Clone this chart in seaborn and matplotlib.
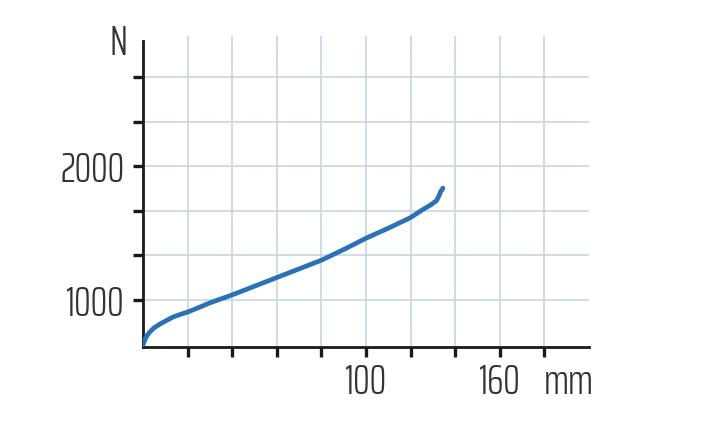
import matplotlib
matplotlib.use("Agg")
import matplotlib.pyplot as plt
import seaborn as sns

# curve (mm, N)
travel_mm = [0, 1, 2, 3, 5, 7.6, 10, 13.5, 17, 20, 25, 30, 35, 40, 50, 60, 70, 80, 90,
             100, 110, 120, 125, 129, 131.5, 132.5, 133.5, 134.5]
force_n = [660, 705, 735, 756, 788, 816, 838, 869, 890, 906, 940, 975, 1005, 1035, 1100,
           1165, 1230, 1295, 1375, 1460, 1535, 1615, 1670, 1710, 1740, 1770, 1810, 1836]

x_ticks = [20, 40, 60, 80, 100, 120, 140, 160, 180]
x_labels = ["", "", "", "", "100", "", "", "160", ""]
y_ticks = [1000, 4000 / 3, 5000 / 3, 2000, 7000 / 3, 8000 / 3]
y_labels = ["1000", "", "", "2000", "", ""]

sns.set_style("white")
plt.rcParams["font.family"] = ["Saira ExtraCondensed", "DejaVu Sans"]
plt.rcParams["font.weight"] = 300

fig = plt.figure(figsize=(7.12, 4.22), dpi=100)
ax = fig.add_axes([143 / 712, 1 - 347 / 422, 446 / 712, 311 / 422])

sns.lineplot(x=travel_mm, y=force_n, sort=False, color="#2a72b8", linewidth=3.4, ax=ax, zorder=3)

ax.set_xlim(0, 200)
ax.set_ylim(644, 2977)
ax.set_xticks(x_ticks)
ax.set_xticklabels(x_labels)
ax.set_yticks(y_ticks)
ax.set_yticklabels(y_labels)
ax.grid(True, color="#c9d5e2", linewidth=1.2)
ax.set_axisbelow(True)

for side in ["top", "right"]:
    ax.spines[side].set_visible(False)
for side in ["left", "bottom"]:
    ax.spines[side].set_color("#1a1a1a")
    ax.spines[side].set_linewidth(2)
ax.spines["left"].set_bounds(644, 2940)

ax.tick_params(axis="y", left=True, direction="out", length=7, width=2.4, color="#1a1a1a",
               pad=6, labelsize=30, labelcolor="#333333")
ax.tick_params(axis="x", bottom=True, direction="out", length=7, width=2.4, color="#1a1a1a",
               pad=4, labelsize=30, labelcolor="#333333")

fig.text(119 / 712, 1 - 43 / 422, "N", ha="center", va="center", fontsize=30, color="#333333")
fig.text(569 / 712, 1 - 382 / 422, "mm", ha="center", va="center", fontsize=30, color="#333333")

fig.savefig("out.png", dpi=100)
